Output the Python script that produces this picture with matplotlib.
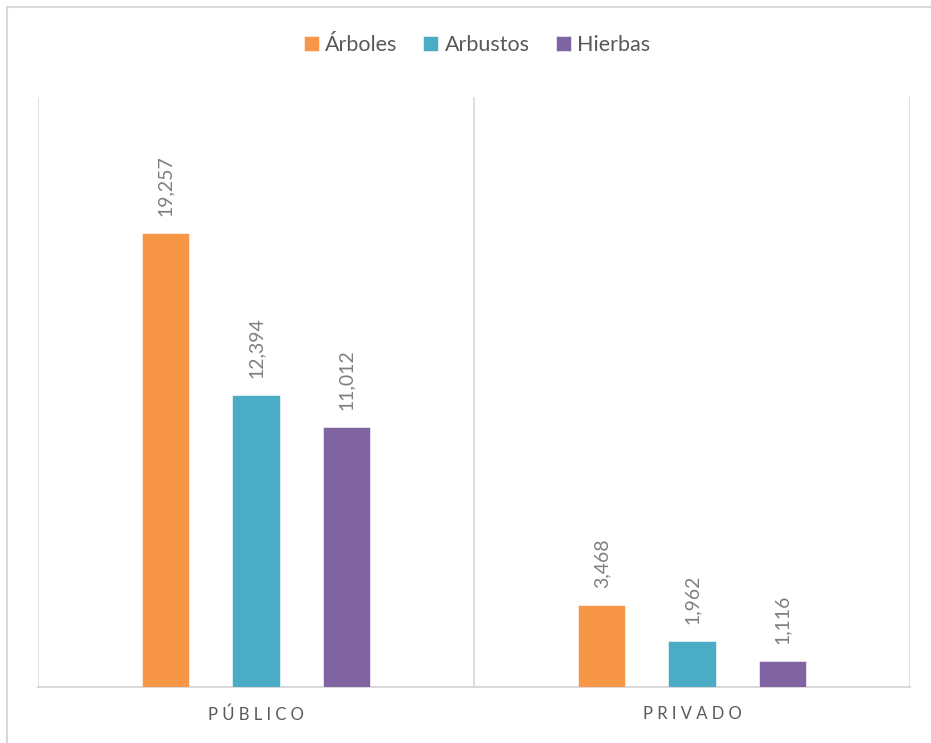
import matplotlib.pyplot as plt
from matplotlib.patches import Rectangle
import numpy as np

plt.rcParams['font.family'] = ['Lato', 'DejaVu Sans']

categories = ['PÚBLICO', 'PRIVADO']
series = ['Árboles', 'Arbustos', 'Hierbas']
arboles = [19257, 3468]
arbustos = [12394, 1962]
hierbas = [11012, 1116]
colors = ['#F79646', '#4BACC6', '#8064A2']

W, H = 931, 743
fig = plt.figure(figsize=(W / 100, H / 100), dpi=100)
ax = fig.add_axes([38 / W, (H - 687) / H, (910 - 38) / W, (687 - 97) / H])

# outer chart border (cropped on right/bottom)
fig.patches.append(Rectangle((7 / W, -0.1), 1.2, (H - 7) / H + 0.1, transform=fig.transFigure,
                             fill=False, edgecolor='#d9d9d9', linewidth=1.5))

x = np.arange(len(categories))
bar_w = 47 / 435
step = 90 / 435
for k, (name, vals) in enumerate(zip(series, [arboles, arbustos, hierbas])):
    pos = x + (k - 1) * step
    ax.bar(pos, vals, bar_w, color=colors[k], label=name, edgecolor='#ffffff', linewidth=0.4, zorder=3)
    for p, v in zip(pos, vals):
        ax.annotate('{:,}'.format(v), (p, v), xytext=(0, 12), textcoords='offset points',
                    rotation=90, ha='center', va='bottom', fontsize=14, color='#7f7f7f')

ax.set_xlim(-0.5, 1.5)
ax.set_ylim(0, 25000)
ax.set_yticks([])
ax.set_xticks(x)
ax.set_xticklabels([' '.join(c) for c in categories], fontsize=12, color='#595959')
ax.tick_params(axis='x', length=0, pad=14)
for s in ['top', 'right', 'left']:
    ax.spines[s].set_visible(False)
ax.spines['bottom'].set_color('#d9d9d9')
ax.spines['bottom'].set_linewidth(1.5)
for xv in [-0.5, 0.5, 1.5]:
    ax.axvline(xv, color='#d9d9d9', linewidth=1.2, zorder=1)

fig.legend(loc='center', bbox_to_anchor=(477 / W, 1 - 45 / H), ncol=3, frameon=False,
           fontsize=15.5, handlelength=0.7, handleheight=0.7, handletextpad=0.3, columnspacing=1.2,
           labelcolor='#595959')

plt.savefig('out.png', dpi=100)
